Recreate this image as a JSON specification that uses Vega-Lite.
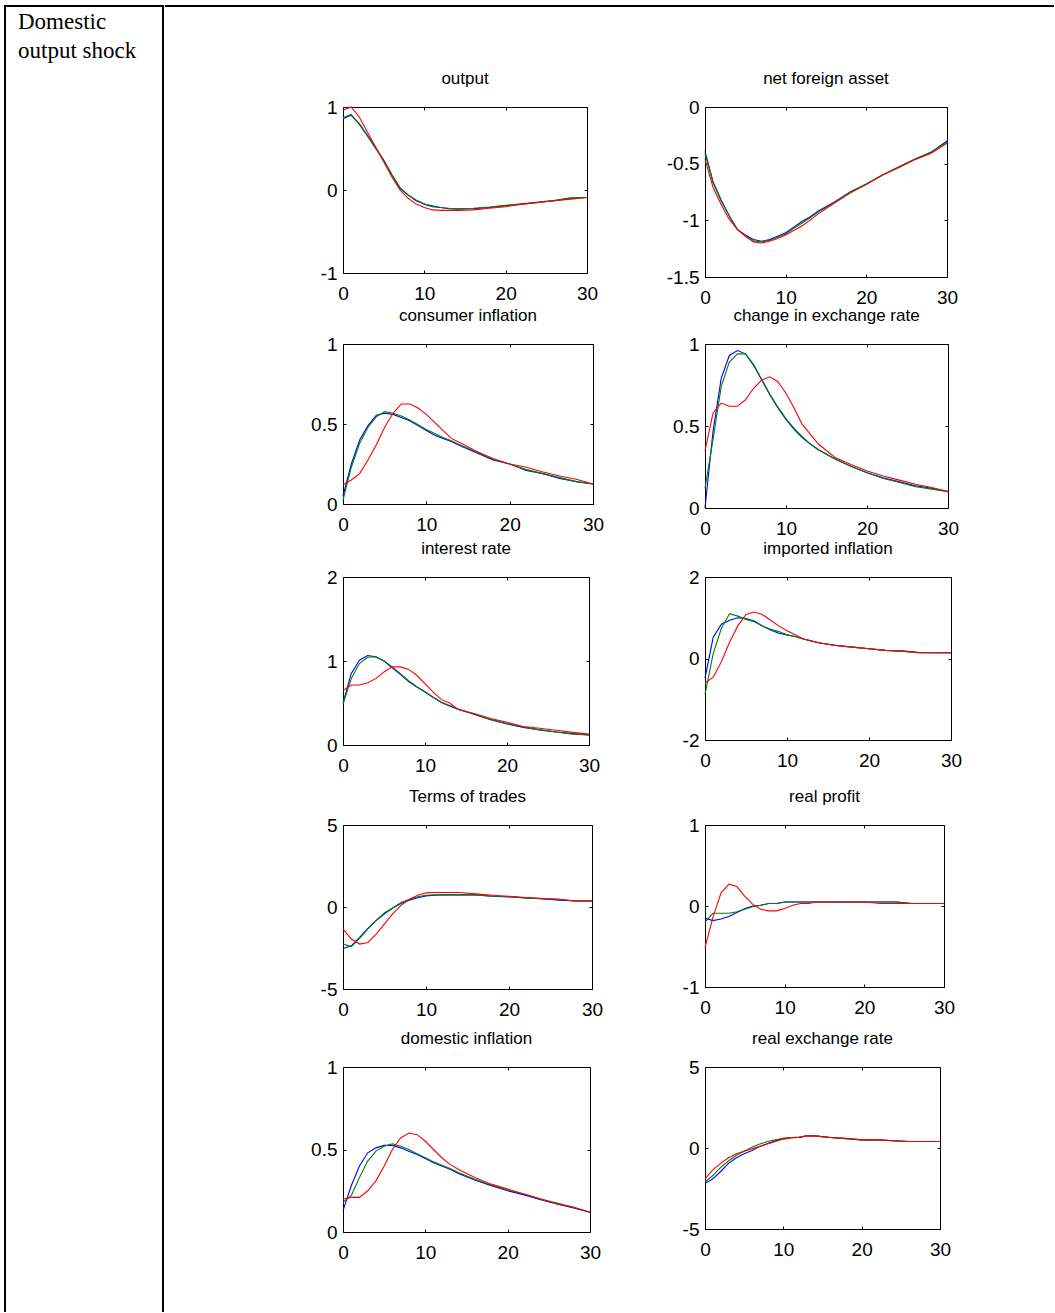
{
  "$schema": "https://vega.github.io/schema/vega-lite/v6.json",
  "padding": {"left": 4, "top": 5, "right": 0, "bottom": 0},
  "background": "white",
  "config": {
    "view": {"stroke": null},
    "font": "Liberation Sans, Arial, sans-serif",
    "axis": {"domain": false, "grid": false, "tickColor": "black", "tickSize": -3, "tickWidth": 1, "labelColor": "black", "labelFont": "Liberation Sans, Arial, sans-serif", "labelFontSize": 19, "labelFlush": false, "labelOverlap": false, "labelBound": false},
    "title": {"font": "Liberation Sans, Arial, sans-serif", "fontSize": 17, "fontWeight": "normal", "color": "black", "anchor": "middle", "frame": "group", "offset": 10, "baseline": "alphabetic"},
    "line": {"strokeWidth": 1.1}
  },
  "datasets": {
    "output": [
      {"s":"b","t":0,"v":0.86},{"s":"b","t":1,"v":0.90},{"s":"b","t":2,"v":0.80},{"s":"b","t":3,"v":0.66},{"s":"b","t":4,"v":0.51},{"s":"b","t":5,"v":0.36},{"s":"b","t":6,"v":0.18},{"s":"b","t":7,"v":0.02},{"s":"b","t":8,"v":-0.06},{"s":"b","t":9,"v":-0.13},{"s":"b","t":10,"v":-0.17},{"s":"b","t":11,"v":-0.20},{"s":"b","t":12,"v":-0.21},{"s":"b","t":13,"v":-0.225},{"s":"b","t":14,"v":-0.23},{"s":"b","t":16,"v":-0.225},{"s":"b","t":18,"v":-0.21},{"s":"b","t":20,"v":-0.19},{"s":"b","t":22,"v":-0.17},{"s":"b","t":24,"v":-0.15},{"s":"b","t":26,"v":-0.13},{"s":"b","t":28,"v":-0.10},{"s":"b","t":30,"v":-0.09},
      {"s":"g","t":0,"v":0.87},{"s":"g","t":1,"v":0.91},{"s":"g","t":2,"v":0.79},{"s":"g","t":3,"v":0.65},{"s":"g","t":4,"v":0.50},{"s":"g","t":5,"v":0.36},{"s":"g","t":6,"v":0.19},{"s":"g","t":7,"v":0.03},{"s":"g","t":8,"v":-0.06},{"s":"g","t":9,"v":-0.12},{"s":"g","t":10,"v":-0.17},{"s":"g","t":11,"v":-0.19},{"s":"g","t":12,"v":-0.21},{"s":"g","t":13,"v":-0.22},{"s":"g","t":14,"v":-0.225},{"s":"g","t":16,"v":-0.22},{"s":"g","t":18,"v":-0.205},{"s":"g","t":20,"v":-0.185},{"s":"g","t":22,"v":-0.165},{"s":"g","t":24,"v":-0.145},{"s":"g","t":26,"v":-0.125},{"s":"g","t":28,"v":-0.095},{"s":"g","t":30,"v":-0.09},
      {"s":"r","t":0,"v":0.96},{"s":"r","t":1,"v":1.0},{"s":"r","t":2,"v":0.88},{"s":"r","t":3,"v":0.70},{"s":"r","t":4,"v":0.52},{"s":"r","t":5,"v":0.34},{"s":"r","t":6,"v":0.16},{"s":"r","t":7,"v":0.0},{"s":"r","t":8,"v":-0.10},{"s":"r","t":9,"v":-0.17},{"s":"r","t":10,"v":-0.21},{"s":"r","t":11,"v":-0.24},{"s":"r","t":12,"v":-0.245},{"s":"r","t":13,"v":-0.245},{"s":"r","t":14,"v":-0.245},{"s":"r","t":16,"v":-0.24},{"s":"r","t":18,"v":-0.22},{"s":"r","t":20,"v":-0.20},{"s":"r","t":22,"v":-0.17},{"s":"r","t":24,"v":-0.15},{"s":"r","t":26,"v":-0.13},{"s":"r","t":28,"v":-0.11},{"s":"r","t":30,"v":-0.09}
    ],
    "nfa": [
      {"s":"b","t":0,"v":-0.39},{"s":"b","t":1,"v":-0.66},{"s":"b","t":2,"v":-0.82},{"s":"b","t":3,"v":-0.96},{"s":"b","t":4,"v":-1.08},{"s":"b","t":5,"v":-1.13},{"s":"b","t":6,"v":-1.17},{"s":"b","t":7,"v":-1.185},{"s":"b","t":8,"v":-1.17},{"s":"b","t":9,"v":-1.14},{"s":"b","t":10,"v":-1.11},{"s":"b","t":11,"v":-1.06},{"s":"b","t":12,"v":-1.01},{"s":"b","t":13,"v":-0.97},{"s":"b","t":14,"v":-0.92},{"s":"b","t":16,"v":-0.84},{"s":"b","t":18,"v":-0.75},{"s":"b","t":20,"v":-0.68},{"s":"b","t":22,"v":-0.60},{"s":"b","t":24,"v":-0.53},{"s":"b","t":26,"v":-0.46},{"s":"b","t":28,"v":-0.40},{"s":"b","t":30,"v":-0.30},
      {"s":"g","t":0,"v":-0.41},{"s":"g","t":1,"v":-0.67},{"s":"g","t":2,"v":-0.83},{"s":"g","t":3,"v":-0.96},{"s":"g","t":4,"v":-1.08},{"s":"g","t":5,"v":-1.135},{"s":"g","t":6,"v":-1.18},{"s":"g","t":7,"v":-1.19},{"s":"g","t":8,"v":-1.175},{"s":"g","t":9,"v":-1.15},{"s":"g","t":10,"v":-1.12},{"s":"g","t":11,"v":-1.07},{"s":"g","t":12,"v":-1.025},{"s":"g","t":13,"v":-0.98},{"s":"g","t":14,"v":-0.93},{"s":"g","t":16,"v":-0.845},{"s":"g","t":18,"v":-0.75},{"s":"g","t":20,"v":-0.68},{"s":"g","t":22,"v":-0.60},{"s":"g","t":24,"v":-0.53},{"s":"g","t":26,"v":-0.46},{"s":"g","t":28,"v":-0.40},{"s":"g","t":30,"v":-0.31},
      {"s":"r","t":0,"v":-0.46},{"s":"r","t":1,"v":-0.71},{"s":"r","t":2,"v":-0.86},{"s":"r","t":3,"v":-0.99},{"s":"r","t":4,"v":-1.08},{"s":"r","t":5,"v":-1.14},{"s":"r","t":6,"v":-1.19},{"s":"r","t":7,"v":-1.20},{"s":"r","t":8,"v":-1.185},{"s":"r","t":9,"v":-1.16},{"s":"r","t":10,"v":-1.13},{"s":"r","t":11,"v":-1.09},{"s":"r","t":12,"v":-1.05},{"s":"r","t":13,"v":-1.0},{"s":"r","t":14,"v":-0.945},{"s":"r","t":16,"v":-0.85},{"s":"r","t":18,"v":-0.76},{"s":"r","t":20,"v":-0.685},{"s":"r","t":22,"v":-0.60},{"s":"r","t":24,"v":-0.535},{"s":"r","t":26,"v":-0.465},{"s":"r","t":28,"v":-0.41},{"s":"r","t":30,"v":-0.32}
    ],
    "ci": [
      {"s":"b","t":0,"v":0.05},{"s":"b","t":1,"v":0.25},{"s":"b","t":2,"v":0.40},{"s":"b","t":3,"v":0.49},{"s":"b","t":4,"v":0.555},{"s":"b","t":5,"v":0.567},{"s":"b","t":6,"v":0.56},{"s":"b","t":7,"v":0.54},{"s":"b","t":8,"v":0.52},{"s":"b","t":9,"v":0.49},{"s":"b","t":10,"v":0.46},{"s":"b","t":11,"v":0.43},{"s":"b","t":12,"v":0.41},{"s":"b","t":13,"v":0.39},{"s":"b","t":14,"v":0.365},{"s":"b","t":16,"v":0.32},{"s":"b","t":18,"v":0.275},{"s":"b","t":20,"v":0.25},{"s":"b","t":22,"v":0.21},{"s":"b","t":24,"v":0.19},{"s":"b","t":26,"v":0.16},{"s":"b","t":28,"v":0.14},{"s":"b","t":30,"v":0.125},
      {"s":"g","t":0,"v":0.025},{"s":"g","t":1,"v":0.23},{"s":"g","t":2,"v":0.38},{"s":"g","t":3,"v":0.48},{"s":"g","t":4,"v":0.545},{"s":"g","t":5,"v":0.577},{"s":"g","t":6,"v":0.567},{"s":"g","t":7,"v":0.55},{"s":"g","t":8,"v":0.525},{"s":"g","t":9,"v":0.495},{"s":"g","t":10,"v":0.465},{"s":"g","t":11,"v":0.44},{"s":"g","t":12,"v":0.415},{"s":"g","t":13,"v":0.395},{"s":"g","t":14,"v":0.37},{"s":"g","t":16,"v":0.325},{"s":"g","t":18,"v":0.28},{"s":"g","t":20,"v":0.25},{"s":"g","t":22,"v":0.215},{"s":"g","t":24,"v":0.19},{"s":"g","t":26,"v":0.165},{"s":"g","t":28,"v":0.14},{"s":"g","t":30,"v":0.125},
      {"s":"r","t":0,"v":0.12},{"s":"r","t":1,"v":0.15},{"s":"r","t":2,"v":0.19},{"s":"r","t":3,"v":0.275},{"s":"r","t":4,"v":0.37},{"s":"r","t":5,"v":0.48},{"s":"r","t":6,"v":0.567},{"s":"r","t":7,"v":0.625},{"s":"r","t":8,"v":0.625},{"s":"r","t":9,"v":0.60},{"s":"r","t":10,"v":0.56},{"s":"r","t":11,"v":0.51},{"s":"r","t":12,"v":0.46},{"s":"r","t":13,"v":0.41},{"s":"r","t":14,"v":0.385},{"s":"r","t":16,"v":0.33},{"s":"r","t":18,"v":0.285},{"s":"r","t":20,"v":0.25},{"s":"r","t":22,"v":0.23},{"s":"r","t":24,"v":0.20},{"s":"r","t":26,"v":0.175},{"s":"r","t":28,"v":0.155},{"s":"r","t":30,"v":0.125}
    ],
    "cer": [
      {"s":"b","t":0,"v":0.0},{"s":"b","t":1,"v":0.47},{"s":"b","t":2,"v":0.79},{"s":"b","t":3,"v":0.93},{"s":"b","t":4,"v":0.96},{"s":"b","t":5,"v":0.94},{"s":"b","t":6,"v":0.87},{"s":"b","t":7,"v":0.78},{"s":"b","t":8,"v":0.69},{"s":"b","t":9,"v":0.61},{"s":"b","t":10,"v":0.54},{"s":"b","t":11,"v":0.48},{"s":"b","t":12,"v":0.43},{"s":"b","t":13,"v":0.39},{"s":"b","t":14,"v":0.355},{"s":"b","t":16,"v":0.30},{"s":"b","t":18,"v":0.255},{"s":"b","t":20,"v":0.215},{"s":"b","t":22,"v":0.185},{"s":"b","t":24,"v":0.16},{"s":"b","t":26,"v":0.135},{"s":"b","t":28,"v":0.12},{"s":"b","t":30,"v":0.10},
      {"s":"g","t":0,"v":0.12},{"s":"g","t":1,"v":0.42},{"s":"g","t":2,"v":0.74},{"s":"g","t":3,"v":0.89},{"s":"g","t":4,"v":0.94},{"s":"g","t":5,"v":0.94},{"s":"g","t":6,"v":0.875},{"s":"g","t":7,"v":0.785},{"s":"g","t":8,"v":0.695},{"s":"g","t":9,"v":0.615},{"s":"g","t":10,"v":0.545},{"s":"g","t":11,"v":0.485},{"s":"g","t":12,"v":0.435},{"s":"g","t":13,"v":0.39},{"s":"g","t":14,"v":0.355},{"s":"g","t":16,"v":0.30},{"s":"g","t":18,"v":0.255},{"s":"g","t":20,"v":0.215},{"s":"g","t":22,"v":0.18},{"s":"g","t":24,"v":0.155},{"s":"g","t":26,"v":0.13},{"s":"g","t":28,"v":0.115},{"s":"g","t":30,"v":0.10},
      {"s":"r","t":0,"v":0.35},{"s":"r","t":1,"v":0.58},{"s":"r","t":2,"v":0.64},{"s":"r","t":3,"v":0.62},{"s":"r","t":4,"v":0.62},{"s":"r","t":5,"v":0.66},{"s":"r","t":6,"v":0.73},{"s":"r","t":7,"v":0.78},{"s":"r","t":8,"v":0.80},{"s":"r","t":9,"v":0.77},{"s":"r","t":10,"v":0.70},{"s":"r","t":11,"v":0.61},{"s":"r","t":12,"v":0.51},{"s":"r","t":13,"v":0.45},{"s":"r","t":14,"v":0.39},{"s":"r","t":16,"v":0.31},{"s":"r","t":18,"v":0.265},{"s":"r","t":20,"v":0.225},{"s":"r","t":22,"v":0.195},{"s":"r","t":24,"v":0.17},{"s":"r","t":26,"v":0.145},{"s":"r","t":28,"v":0.125},{"s":"r","t":30,"v":0.10}
    ],
    "ir": [
      {"s":"b","t":0,"v":0.50},{"s":"b","t":1,"v":0.85},{"s":"b","t":2,"v":1.01},{"s":"b","t":3,"v":1.065},{"s":"b","t":4,"v":1.05},{"s":"b","t":5,"v":1.0},{"s":"b","t":6,"v":0.92},{"s":"b","t":7,"v":0.84},{"s":"b","t":8,"v":0.755},{"s":"b","t":9,"v":0.69},{"s":"b","t":10,"v":0.63},{"s":"b","t":11,"v":0.565},{"s":"b","t":12,"v":0.505},{"s":"b","t":13,"v":0.465},{"s":"b","t":14,"v":0.425},{"s":"b","t":16,"v":0.365},{"s":"b","t":18,"v":0.30},{"s":"b","t":20,"v":0.25},{"s":"b","t":22,"v":0.21},{"s":"b","t":24,"v":0.18},{"s":"b","t":26,"v":0.155},{"s":"b","t":28,"v":0.135},{"s":"b","t":30,"v":0.12},
      {"s":"g","t":0,"v":0.485},{"s":"g","t":1,"v":0.79},{"s":"g","t":2,"v":0.97},{"s":"g","t":3,"v":1.045},{"s":"g","t":4,"v":1.05},{"s":"g","t":5,"v":1.0},{"s":"g","t":6,"v":0.93},{"s":"g","t":7,"v":0.85},{"s":"g","t":8,"v":0.765},{"s":"g","t":9,"v":0.695},{"s":"g","t":10,"v":0.635},{"s":"g","t":11,"v":0.57},{"s":"g","t":12,"v":0.51},{"s":"g","t":13,"v":0.47},{"s":"g","t":14,"v":0.43},{"s":"g","t":16,"v":0.365},{"s":"g","t":18,"v":0.305},{"s":"g","t":20,"v":0.255},{"s":"g","t":22,"v":0.215},{"s":"g","t":24,"v":0.18},{"s":"g","t":26,"v":0.155},{"s":"g","t":28,"v":0.13},{"s":"g","t":30,"v":0.12},
      {"s":"r","t":0,"v":0.65},{"s":"r","t":1,"v":0.715},{"s":"r","t":2,"v":0.715},{"s":"r","t":3,"v":0.74},{"s":"r","t":4,"v":0.79},{"s":"r","t":5,"v":0.87},{"s":"r","t":6,"v":0.93},{"s":"r","t":7,"v":0.93},{"s":"r","t":8,"v":0.90},{"s":"r","t":9,"v":0.83},{"s":"r","t":10,"v":0.73},{"s":"r","t":11,"v":0.63},{"s":"r","t":12,"v":0.54},{"s":"r","t":13,"v":0.50},{"s":"r","t":14,"v":0.425},{"s":"r","t":16,"v":0.375},{"s":"r","t":18,"v":0.315},{"s":"r","t":20,"v":0.27},{"s":"r","t":22,"v":0.22},{"s":"r","t":24,"v":0.20},{"s":"r","t":26,"v":0.175},{"s":"r","t":28,"v":0.15},{"s":"r","t":30,"v":0.13}
    ],
    "ii": [
      {"s":"b","t":0,"v":-0.48},{"s":"b","t":1,"v":0.52},{"s":"b","t":2,"v":0.84},{"s":"b","t":3,"v":0.94},{"s":"b","t":4,"v":1.0},{"s":"b","t":5,"v":0.98},{"s":"b","t":6,"v":0.92},{"s":"b","t":7,"v":0.80},{"s":"b","t":8,"v":0.70},{"s":"b","t":9,"v":0.62},{"s":"b","t":10,"v":0.58},{"s":"b","t":11,"v":0.54},{"s":"b","t":12,"v":0.48},{"s":"b","t":13,"v":0.43},{"s":"b","t":14,"v":0.38},{"s":"b","t":16,"v":0.32},{"s":"b","t":18,"v":0.28},{"s":"b","t":20,"v":0.24},{"s":"b","t":22,"v":0.20},{"s":"b","t":24,"v":0.18},{"s":"b","t":26,"v":0.145},{"s":"b","t":28,"v":0.14},{"s":"b","t":30,"v":0.14},
      {"s":"g","t":0,"v":-0.88},{"s":"g","t":1,"v":0.12},{"s":"g","t":2,"v":0.74},{"s":"g","t":3,"v":1.10},{"s":"g","t":4,"v":1.04},{"s":"g","t":5,"v":0.96},{"s":"g","t":6,"v":0.90},{"s":"g","t":7,"v":0.80},{"s":"g","t":8,"v":0.72},{"s":"g","t":9,"v":0.66},{"s":"g","t":10,"v":0.58},{"s":"g","t":11,"v":0.54},{"s":"g","t":12,"v":0.48},{"s":"g","t":13,"v":0.43},{"s":"g","t":14,"v":0.38},{"s":"g","t":16,"v":0.32},{"s":"g","t":18,"v":0.28},{"s":"g","t":20,"v":0.24},{"s":"g","t":22,"v":0.20},{"s":"g","t":24,"v":0.18},{"s":"g","t":26,"v":0.14},{"s":"g","t":28,"v":0.14},{"s":"g","t":30,"v":0.14},
      {"s":"r","t":0,"v":-0.60},{"s":"r","t":1,"v":-0.46},{"s":"r","t":2,"v":-0.08},{"s":"r","t":3,"v":0.40},{"s":"r","t":4,"v":0.80},{"s":"r","t":5,"v":1.08},{"s":"r","t":6,"v":1.14},{"s":"r","t":7,"v":1.08},{"s":"r","t":8,"v":0.94},{"s":"r","t":9,"v":0.80},{"s":"r","t":10,"v":0.68},{"s":"r","t":11,"v":0.58},{"s":"r","t":12,"v":0.48},{"s":"r","t":13,"v":0.43},{"s":"r","t":14,"v":0.38},{"s":"r","t":16,"v":0.32},{"s":"r","t":18,"v":0.28},{"s":"r","t":20,"v":0.24},{"s":"r","t":22,"v":0.20},{"s":"r","t":24,"v":0.19},{"s":"r","t":26,"v":0.15},{"s":"r","t":28,"v":0.14},{"s":"r","t":30,"v":0.14}
    ],
    "tot": [
      {"s":"b","t":0,"v":-2.53},{"s":"b","t":1,"v":-2.37},{"s":"b","t":2,"v":-1.85},{"s":"b","t":3,"v":-1.30},{"s":"b","t":4,"v":-0.82},{"s":"b","t":5,"v":-0.41},{"s":"b","t":6,"v":-0.06},{"s":"b","t":7,"v":0.21},{"s":"b","t":8,"v":0.41},{"s":"b","t":9,"v":0.56},{"s":"b","t":10,"v":0.68},{"s":"b","t":11,"v":0.72},{"s":"b","t":12,"v":0.74},{"s":"b","t":13,"v":0.74},{"s":"b","t":14,"v":0.74},{"s":"b","t":16,"v":0.74},{"s":"b","t":18,"v":0.66},{"s":"b","t":20,"v":0.62},{"s":"b","t":22,"v":0.56},{"s":"b","t":24,"v":0.51},{"s":"b","t":26,"v":0.41},{"s":"b","t":28,"v":0.37},{"s":"b","t":30,"v":0.37},
      {"s":"g","t":0,"v":-2.26},{"s":"g","t":1,"v":-2.41},{"s":"g","t":2,"v":-1.91},{"s":"g","t":3,"v":-1.34},{"s":"g","t":4,"v":-0.82},{"s":"g","t":5,"v":-0.35},{"s":"g","t":6,"v":-0.06},{"s":"g","t":7,"v":0.27},{"s":"g","t":8,"v":0.47},{"s":"g","t":9,"v":0.62},{"s":"g","t":10,"v":0.72},{"s":"g","t":11,"v":0.74},{"s":"g","t":12,"v":0.74},{"s":"g","t":13,"v":0.74},{"s":"g","t":14,"v":0.74},{"s":"g","t":16,"v":0.74},{"s":"g","t":18,"v":0.66},{"s":"g","t":20,"v":0.64},{"s":"g","t":22,"v":0.53},{"s":"g","t":24,"v":0.51},{"s":"g","t":26,"v":0.47},{"s":"g","t":28,"v":0.37},{"s":"g","t":30,"v":0.37},
      {"s":"r","t":0,"v":-1.34},{"s":"r","t":1,"v":-1.95},{"s":"r","t":2,"v":-2.26},{"s":"r","t":3,"v":-2.16},{"s":"r","t":4,"v":-1.65},{"s":"r","t":5,"v":-1.03},{"s":"r","t":6,"v":-0.41},{"s":"r","t":7,"v":0.10},{"s":"r","t":8,"v":0.47},{"s":"r","t":9,"v":0.72},{"s":"r","t":10,"v":0.86},{"s":"r","t":11,"v":0.88},{"s":"r","t":12,"v":0.88},{"s":"r","t":13,"v":0.88},{"s":"r","t":14,"v":0.88},{"s":"r","t":16,"v":0.80},{"s":"r","t":18,"v":0.72},{"s":"r","t":20,"v":0.66},{"s":"r","t":22,"v":0.58},{"s":"r","t":24,"v":0.51},{"s":"r","t":26,"v":0.47},{"s":"r","t":28,"v":0.37},{"s":"r","t":30,"v":0.37}
    ],
    "rp": [
      {"s":"b","t":0,"v":-0.15},{"s":"b","t":1,"v":-0.18},{"s":"b","t":2,"v":-0.16},{"s":"b","t":3,"v":-0.13},{"s":"b","t":4,"v":-0.08},{"s":"b","t":5,"v":-0.03},{"s":"b","t":6,"v":0.0},{"s":"b","t":7,"v":0.01},{"s":"b","t":8,"v":0.03},{"s":"b","t":9,"v":0.03},{"s":"b","t":10,"v":0.05},{"s":"b","t":11,"v":0.05},{"s":"b","t":12,"v":0.05},{"s":"b","t":13,"v":0.05},{"s":"b","t":14,"v":0.05},{"s":"b","t":16,"v":0.05},{"s":"b","t":18,"v":0.05},{"s":"b","t":20,"v":0.05},{"s":"b","t":22,"v":0.05},{"s":"b","t":24,"v":0.05},{"s":"b","t":26,"v":0.03},{"s":"b","t":28,"v":0.03},{"s":"b","t":30,"v":0.03},
      {"s":"g","t":0,"v":-0.20},{"s":"g","t":1,"v":-0.09},{"s":"g","t":2,"v":-0.09},{"s":"g","t":3,"v":-0.09},{"s":"g","t":4,"v":-0.07},{"s":"g","t":5,"v":-0.04},{"s":"g","t":6,"v":-0.01},{"s":"g","t":7,"v":0.01},{"s":"g","t":8,"v":0.03},{"s":"g","t":9,"v":0.03},{"s":"g","t":10,"v":0.05},{"s":"g","t":11,"v":0.05},{"s":"g","t":12,"v":0.05},{"s":"g","t":13,"v":0.05},{"s":"g","t":14,"v":0.05},{"s":"g","t":16,"v":0.05},{"s":"g","t":18,"v":0.05},{"s":"g","t":20,"v":0.05},{"s":"g","t":22,"v":0.05},{"s":"g","t":24,"v":0.05},{"s":"g","t":26,"v":0.03},{"s":"g","t":28,"v":0.03},{"s":"g","t":30,"v":0.03},
      {"s":"r","t":0,"v":-0.51},{"s":"r","t":1,"v":-0.14},{"s":"r","t":2,"v":0.16},{"s":"r","t":3,"v":0.27},{"s":"r","t":4,"v":0.24},{"s":"r","t":5,"v":0.12},{"s":"r","t":6,"v":0.02},{"s":"r","t":7,"v":-0.04},{"s":"r","t":8,"v":-0.06},{"s":"r","t":9,"v":-0.06},{"s":"r","t":10,"v":-0.03},{"s":"r","t":11,"v":0.01},{"s":"r","t":12,"v":0.03},{"s":"r","t":13,"v":0.03},{"s":"r","t":14,"v":0.05},{"s":"r","t":16,"v":0.05},{"s":"r","t":18,"v":0.05},{"s":"r","t":20,"v":0.05},{"s":"r","t":22,"v":0.03},{"s":"r","t":24,"v":0.03},{"s":"r","t":26,"v":0.03},{"s":"r","t":28,"v":0.03},{"s":"r","t":30,"v":0.03}
    ],
    "di": [
      {"s":"b","t":0,"v":0.13},{"s":"b","t":1,"v":0.28},{"s":"b","t":2,"v":0.40},{"s":"b","t":3,"v":0.48},{"s":"b","t":4,"v":0.51},{"s":"b","t":5,"v":0.525},{"s":"b","t":6,"v":0.525},{"s":"b","t":7,"v":0.51},{"s":"b","t":8,"v":0.49},{"s":"b","t":9,"v":0.47},{"s":"b","t":10,"v":0.445},{"s":"b","t":11,"v":0.42},{"s":"b","t":12,"v":0.40},{"s":"b","t":13,"v":0.38},{"s":"b","t":14,"v":0.355},{"s":"b","t":16,"v":0.315},{"s":"b","t":18,"v":0.28},{"s":"b","t":20,"v":0.25},{"s":"b","t":22,"v":0.225},{"s":"b","t":24,"v":0.195},{"s":"b","t":26,"v":0.17},{"s":"b","t":28,"v":0.145},{"s":"b","t":30,"v":0.12},
      {"s":"g","t":0,"v":0.18},{"s":"g","t":1,"v":0.22},{"s":"g","t":2,"v":0.33},{"s":"g","t":3,"v":0.43},{"s":"g","t":4,"v":0.49},{"s":"g","t":5,"v":0.52},{"s":"g","t":6,"v":0.535},{"s":"g","t":7,"v":0.52},{"s":"g","t":8,"v":0.50},{"s":"g","t":9,"v":0.475},{"s":"g","t":10,"v":0.45},{"s":"g","t":11,"v":0.425},{"s":"g","t":12,"v":0.405},{"s":"g","t":13,"v":0.385},{"s":"g","t":14,"v":0.36},{"s":"g","t":16,"v":0.32},{"s":"g","t":18,"v":0.285},{"s":"g","t":20,"v":0.255},{"s":"g","t":22,"v":0.23},{"s":"g","t":24,"v":0.20},{"s":"g","t":26,"v":0.175},{"s":"g","t":28,"v":0.15},{"s":"g","t":30,"v":0.12},
      {"s":"r","t":0,"v":0.20},{"s":"r","t":1,"v":0.21},{"s":"r","t":2,"v":0.21},{"s":"r","t":3,"v":0.25},{"s":"r","t":4,"v":0.31},{"s":"r","t":5,"v":0.40},{"s":"r","t":6,"v":0.50},{"s":"r","t":7,"v":0.57},{"s":"r","t":8,"v":0.60},{"s":"r","t":9,"v":0.59},{"s":"r","t":10,"v":0.55},{"s":"r","t":11,"v":0.50},{"s":"r","t":12,"v":0.45},{"s":"r","t":13,"v":0.41},{"s":"r","t":14,"v":0.38},{"s":"r","t":16,"v":0.33},{"s":"r","t":18,"v":0.29},{"s":"r","t":20,"v":0.26},{"s":"r","t":22,"v":0.23},{"s":"r","t":24,"v":0.20},{"s":"r","t":26,"v":0.17},{"s":"r","t":28,"v":0.15},{"s":"r","t":30,"v":0.12}
    ],
    "rer": [
      {"s":"b","t":0,"v":-2.2},{"s":"b","t":1,"v":-1.9},{"s":"b","t":2,"v":-1.45},{"s":"b","t":3,"v":-0.95},{"s":"b","t":4,"v":-0.6},{"s":"b","t":5,"v":-0.35},{"s":"b","t":6,"v":-0.15},{"s":"b","t":7,"v":0.1},{"s":"b","t":8,"v":0.28},{"s":"b","t":9,"v":0.45},{"s":"b","t":10,"v":0.58},{"s":"b","t":11,"v":0.65},{"s":"b","t":12,"v":0.65},{"s":"b","t":13,"v":0.75},{"s":"b","t":14,"v":0.75},{"s":"b","t":16,"v":0.65},{"s":"b","t":18,"v":0.58},{"s":"b","t":20,"v":0.5},{"s":"b","t":22,"v":0.5},{"s":"b","t":24,"v":0.45},{"s":"b","t":26,"v":0.4},{"s":"b","t":28,"v":0.4},{"s":"b","t":30,"v":0.4},
      {"s":"g","t":0,"v":-2.1},{"s":"g","t":1,"v":-1.7},{"s":"g","t":2,"v":-1.2},{"s":"g","t":3,"v":-0.8},{"s":"g","t":4,"v":-0.45},{"s":"g","t":5,"v":-0.2},{"s":"g","t":6,"v":0.05},{"s":"g","t":7,"v":0.25},{"s":"g","t":8,"v":0.4},{"s":"g","t":9,"v":0.5},{"s":"g","t":10,"v":0.6},{"s":"g","t":11,"v":0.65},{"s":"g","t":12,"v":0.68},{"s":"g","t":13,"v":0.75},{"s":"g","t":14,"v":0.75},{"s":"g","t":16,"v":0.65},{"s":"g","t":18,"v":0.58},{"s":"g","t":20,"v":0.5},{"s":"g","t":22,"v":0.5},{"s":"g","t":24,"v":0.45},{"s":"g","t":26,"v":0.4},{"s":"g","t":28,"v":0.4},{"s":"g","t":30,"v":0.4},
      {"s":"r","t":0,"v":-1.9},{"s":"r","t":1,"v":-1.35},{"s":"r","t":2,"v":-0.95},{"s":"r","t":3,"v":-0.6},{"s":"r","t":4,"v":-0.35},{"s":"r","t":5,"v":-0.2},{"s":"r","t":6,"v":-0.05},{"s":"r","t":7,"v":0.1},{"s":"r","t":8,"v":0.25},{"s":"r","t":9,"v":0.4},{"s":"r","t":10,"v":0.55},{"s":"r","t":11,"v":0.62},{"s":"r","t":12,"v":0.65},{"s":"r","t":13,"v":0.75},{"s":"r","t":14,"v":0.75},{"s":"r","t":16,"v":0.65},{"s":"r","t":18,"v":0.6},{"s":"r","t":20,"v":0.5},{"s":"r","t":22,"v":0.5},{"s":"r","t":24,"v":0.45},{"s":"r","t":26,"v":0.4},{"s":"r","t":28,"v":0.4},{"s":"r","t":30,"v":0.4}
    ]
  },
  "spacing": 0,
  "hconcat": [
    {
      "width": 158, "height": 1306,
      "data": {"values": []},
      "mark": "point",
      "view": {"stroke": "black", "strokeWidth": 2, "strokeDash": [1464, 158, 1306]},
      "title": {"text": ["Domestic", "output shock"], "anchor": "start", "frame": "group", "baseline": "top", "offset": -57, "dx": 13, "font": "Liberation Serif", "fontSize": 23, "fontWeight": "normal", "lineHeight": 29, "color": "black"}
    },
    {
      "columns": 4,
      "align": "none",
      "bounds": "flush",
      "spacing": 0,
      "concat": [
        {"width": 178, "height": 101, "data": {"values": []}, "mark": "point", "view": {"stroke": "black", "strokeWidth": 2, "strokeDash": [178, 380]}},
        {"width": 250, "height": 101, "data": {"values": []}, "mark": "point", "view": {"stroke": "black", "strokeWidth": 2, "strokeDash": [250, 452]}},
        {"width": 112, "height": 101, "data": {"values": []}, "mark": "point", "view": {"stroke": "black", "strokeWidth": 2, "strokeDash": [112, 314]}},
        {"width": 349, "height": 101, "data": {"values": []}, "mark": "point", "view": {"stroke": "black", "strokeWidth": 2, "strokeDash": [349, 551]}},

        {"width": 178, "height": 166, "data": {"values": []}, "mark": "point"},
        {
          "width": 244, "height": 166, "title": "output", "data": {"name": "output"},
          "view": {"stroke": "black", "strokeWidth": 1},
          "layer": [
            {"mark": {"type": "line"}, "encoding": {
              "x": {"field": "t", "type": "quantitative", "scale": {"domain": [0, 30], "nice": false}, "axis": {"orient": "bottom", "values": [0, 10, 20, 30], "title": null, "labelPadding": 14}},
              "y": {"field": "v", "type": "quantitative", "scale": {"domain": [-1, 1], "nice": false, "zero": false}, "axis": {"orient": "left", "values": [-1, 0, 1], "title": null, "labelPadding": 9, "format": "~g", "labelExpr": "replace(datum.label, '\u2212', '-')"}},
              "color": {"field": "s", "type": "nominal", "scale": {"domain": ["b", "g", "r"], "range": ["#0000ff", "#008000", "#ff0000"]}, "legend": null}}},
            {"mark": {"type": "point", "opacity": 0}, "encoding": {
              "x": {"field": "t", "type": "quantitative", "axis": {"orient": "top", "values": [0, 10, 20, 30], "labels": false, "title": null}},
              "y": {"field": "v", "type": "quantitative", "axis": {"orient": "right", "values": [-1, 0, 1], "labels": false, "title": null}}}}
          ],
          "resolve": {"axis": {"x": "independent", "y": "independent"}}
        },
        {"width": 112, "height": 166, "data": {"values": []}, "mark": "point"},
        {
          "width": 242, "height": 170, "title": "net foreign asset", "data": {"name": "nfa"},
          "view": {"stroke": "black", "strokeWidth": 1},
          "layer": [
            {"mark": {"type": "line"}, "encoding": {
              "x": {"field": "t", "type": "quantitative", "scale": {"domain": [0, 30], "nice": false}, "axis": {"orient": "bottom", "values": [0, 10, 20, 30], "title": null, "labelPadding": 14}},
              "y": {"field": "v", "type": "quantitative", "scale": {"domain": [-1.5, 0], "nice": false, "zero": false}, "axis": {"orient": "left", "values": [-1.5, -1, -0.5, 0], "title": null, "labelPadding": 9, "format": "~g", "labelExpr": "replace(datum.label, '\u2212', '-')"}},
              "color": {"field": "s", "type": "nominal", "scale": {"domain": ["b", "g", "r"], "range": ["#0000ff", "#008000", "#ff0000"]}, "legend": null}}},
            {"mark": {"type": "point", "opacity": 0}, "encoding": {
              "x": {"field": "t", "type": "quantitative", "axis": {"orient": "top", "values": [0, 10, 20, 30], "labels": false, "title": null}},
              "y": {"field": "v", "type": "quantitative", "axis": {"orient": "right", "values": [-1.5, -1, -0.5, 0], "labels": false, "title": null}}}}
          ],
          "resolve": {"axis": {"x": "independent", "y": "independent"}}
        },

        {"width": 178, "height": 67, "data": {"values": []}, "mark": "point"},
        {"width": 250, "height": 67, "data": {"values": []}, "mark": "point"},
        {"width": 112, "height": 67, "data": {"values": []}, "mark": "point"},
        {"width": 242, "height": 67, "data": {"values": []}, "mark": "point"},

        {"width": 178, "height": 160, "data": {"values": []}, "mark": "point"},
        {
          "width": 250, "height": 160, "title": "consumer inflation", "data": {"name": "ci"},
          "view": {"stroke": "black", "strokeWidth": 1},
          "layer": [
            {"mark": {"type": "line"}, "encoding": {
              "x": {"field": "t", "type": "quantitative", "scale": {"domain": [0, 30], "nice": false}, "axis": {"orient": "bottom", "values": [0, 10, 20, 30], "title": null, "labelPadding": 14}},
              "y": {"field": "v", "type": "quantitative", "scale": {"domain": [0, 1], "nice": false, "zero": false}, "axis": {"orient": "left", "values": [0, 0.5, 1], "title": null, "labelPadding": 9, "format": "~g", "labelExpr": "replace(datum.label, '\u2212', '-')"}},
              "color": {"field": "s", "type": "nominal", "scale": {"domain": ["b", "g", "r"], "range": ["#0000ff", "#008000", "#ff0000"]}, "legend": null}}},
            {"mark": {"type": "point", "opacity": 0}, "encoding": {
              "x": {"field": "t", "type": "quantitative", "axis": {"orient": "top", "values": [0, 10, 20, 30], "labels": false, "title": null}},
              "y": {"field": "v", "type": "quantitative", "axis": {"orient": "right", "values": [0, 0.5, 1], "labels": false, "title": null}}}}
          ],
          "resolve": {"axis": {"x": "independent", "y": "independent"}}
        },
        {"width": 112, "height": 160, "data": {"values": []}, "mark": "point"},
        {
          "width": 243, "height": 164, "title": "change in exchange rate", "data": {"name": "cer"},
          "view": {"stroke": "black", "strokeWidth": 1},
          "layer": [
            {"mark": {"type": "line"}, "encoding": {
              "x": {"field": "t", "type": "quantitative", "scale": {"domain": [0, 30], "nice": false}, "axis": {"orient": "bottom", "values": [0, 10, 20, 30], "title": null, "labelPadding": 14}},
              "y": {"field": "v", "type": "quantitative", "scale": {"domain": [0, 1], "nice": false, "zero": false}, "axis": {"orient": "left", "values": [0, 0.5, 1], "title": null, "labelPadding": 9, "format": "~g", "labelExpr": "replace(datum.label, '\u2212', '-')"}},
              "color": {"field": "s", "type": "nominal", "scale": {"domain": ["b", "g", "r"], "range": ["#0000ff", "#008000", "#ff0000"]}, "legend": null}}},
            {"mark": {"type": "point", "opacity": 0}, "encoding": {
              "x": {"field": "t", "type": "quantitative", "axis": {"orient": "top", "values": [0, 10, 20, 30], "labels": false, "title": null}},
              "y": {"field": "v", "type": "quantitative", "axis": {"orient": "right", "values": [0, 0.5, 1], "labels": false, "title": null}}}}
          ],
          "resolve": {"axis": {"x": "independent", "y": "independent"}}
        },

        {"width": 178, "height": 69, "data": {"values": []}, "mark": "point"},
        {"width": 250, "height": 69, "data": {"values": []}, "mark": "point"},
        {"width": 112, "height": 69, "data": {"values": []}, "mark": "point"},
        {"width": 243, "height": 69, "data": {"values": []}, "mark": "point"},

        {"width": 178, "height": 163, "data": {"values": []}, "mark": "point"},
        {
          "width": 246, "height": 168, "title": "interest rate", "data": {"name": "ir"},
          "view": {"stroke": "black", "strokeWidth": 1},
          "layer": [
            {"mark": {"type": "line"}, "encoding": {
              "x": {"field": "t", "type": "quantitative", "scale": {"domain": [0, 30], "nice": false}, "axis": {"orient": "bottom", "values": [0, 10, 20, 30], "title": null, "labelPadding": 14}},
              "y": {"field": "v", "type": "quantitative", "scale": {"domain": [0, 2], "nice": false, "zero": false}, "axis": {"orient": "left", "values": [0, 1, 2], "title": null, "labelPadding": 9, "format": "~g", "labelExpr": "replace(datum.label, '\u2212', '-')"}},
              "color": {"field": "s", "type": "nominal", "scale": {"domain": ["b", "g", "r"], "range": ["#0000ff", "#008000", "#ff0000"]}, "legend": null}}},
            {"mark": {"type": "point", "opacity": 0}, "encoding": {
              "x": {"field": "t", "type": "quantitative", "axis": {"orient": "top", "values": [0, 10, 20, 30], "labels": false, "title": null}},
              "y": {"field": "v", "type": "quantitative", "axis": {"orient": "right", "values": [0, 1, 2], "labels": false, "title": null}}}}
          ],
          "resolve": {"axis": {"x": "independent", "y": "independent"}}
        },
        {"width": 112, "height": 163, "data": {"values": []}, "mark": "point"},
        {
          "width": 246, "height": 163, "title": "imported inflation", "data": {"name": "ii"},
          "view": {"stroke": "black", "strokeWidth": 1},
          "layer": [
            {"mark": {"type": "line"}, "encoding": {
              "x": {"field": "t", "type": "quantitative", "scale": {"domain": [0, 30], "nice": false}, "axis": {"orient": "bottom", "values": [0, 10, 20, 30], "title": null, "labelPadding": 14}},
              "y": {"field": "v", "type": "quantitative", "scale": {"domain": [-2, 2], "nice": false, "zero": false}, "axis": {"orient": "left", "values": [-2, 0, 2], "title": null, "labelPadding": 9, "format": "~g", "labelExpr": "replace(datum.label, '\u2212', '-')"}},
              "color": {"field": "s", "type": "nominal", "scale": {"domain": ["b", "g", "r"], "range": ["#0000ff", "#008000", "#ff0000"]}, "legend": null}}},
            {"mark": {"type": "point", "opacity": 0}, "encoding": {
              "x": {"field": "t", "type": "quantitative", "axis": {"orient": "top", "values": [0, 10, 20, 30], "labels": false, "title": null}},
              "y": {"field": "v", "type": "quantitative", "axis": {"orient": "right", "values": [-2, 0, 2], "labels": false, "title": null}}}}
          ],
          "resolve": {"axis": {"x": "independent", "y": "independent"}}
        },

        {"width": 178, "height": 80, "data": {"values": []}, "mark": "point"},
        {"width": 246, "height": 80, "data": {"values": []}, "mark": "point"},
        {"width": 112, "height": 80, "data": {"values": []}, "mark": "point"},
        {"width": 246, "height": 80, "data": {"values": []}, "mark": "point"},

        {"width": 178, "height": 162, "data": {"values": []}, "mark": "point"},
        {
          "width": 249, "height": 164, "title": "Terms of trades", "data": {"name": "tot"},
          "view": {"stroke": "black", "strokeWidth": 1},
          "layer": [
            {"mark": {"type": "line"}, "encoding": {
              "x": {"field": "t", "type": "quantitative", "scale": {"domain": [0, 30], "nice": false}, "axis": {"orient": "bottom", "values": [0, 10, 20, 30], "title": null, "labelPadding": 14}},
              "y": {"field": "v", "type": "quantitative", "scale": {"domain": [-5, 5], "nice": false, "zero": false}, "axis": {"orient": "left", "values": [-5, 0, 5], "title": null, "labelPadding": 9, "format": "~g", "labelExpr": "replace(datum.label, '\u2212', '-')"}},
              "color": {"field": "s", "type": "nominal", "scale": {"domain": ["b", "g", "r"], "range": ["#0000ff", "#008000", "#ff0000"]}, "legend": null}}},
            {"mark": {"type": "point", "opacity": 0}, "encoding": {
              "x": {"field": "t", "type": "quantitative", "axis": {"orient": "top", "values": [0, 10, 20, 30], "labels": false, "title": null}},
              "y": {"field": "v", "type": "quantitative", "axis": {"orient": "right", "values": [-5, 0, 5], "labels": false, "title": null}}}}
          ],
          "resolve": {"axis": {"x": "independent", "y": "independent"}}
        },
        {"width": 112, "height": 162, "data": {"values": []}, "mark": "point"},
        {
          "width": 239, "height": 162, "title": "real profit", "data": {"name": "rp"},
          "view": {"stroke": "black", "strokeWidth": 1},
          "layer": [
            {"mark": {"type": "line"}, "encoding": {
              "x": {"field": "t", "type": "quantitative", "scale": {"domain": [0, 30], "nice": false}, "axis": {"orient": "bottom", "values": [0, 10, 20, 30], "title": null, "labelPadding": 14}},
              "y": {"field": "v", "type": "quantitative", "scale": {"domain": [-1, 1], "nice": false, "zero": false}, "axis": {"orient": "left", "values": [-1, 0, 1], "title": null, "labelPadding": 9, "format": "~g", "labelExpr": "replace(datum.label, '\u2212', '-')"}},
              "color": {"field": "s", "type": "nominal", "scale": {"domain": ["b", "g", "r"], "range": ["#0000ff", "#008000", "#ff0000"]}, "legend": null}}},
            {"mark": {"type": "point", "opacity": 0}, "encoding": {
              "x": {"field": "t", "type": "quantitative", "axis": {"orient": "top", "values": [0, 10, 20, 30], "labels": false, "title": null}},
              "y": {"field": "v", "type": "quantitative", "axis": {"orient": "right", "values": [-1, 0, 1], "labels": false, "title": null}}}}
          ],
          "resolve": {"axis": {"x": "independent", "y": "independent"}}
        },

        {"width": 178, "height": 78, "data": {"values": []}, "mark": "point"},
        {"width": 249, "height": 78, "data": {"values": []}, "mark": "point"},
        {"width": 112, "height": 78, "data": {"values": []}, "mark": "point"},
        {"width": 239, "height": 78, "data": {"values": []}, "mark": "point"},

        {"width": 178, "height": 162, "data": {"values": []}, "mark": "point"},
        {
          "width": 247, "height": 165, "title": "domestic inflation", "data": {"name": "di"},
          "view": {"stroke": "black", "strokeWidth": 1},
          "layer": [
            {"mark": {"type": "line"}, "encoding": {
              "x": {"field": "t", "type": "quantitative", "scale": {"domain": [0, 30], "nice": false}, "axis": {"orient": "bottom", "values": [0, 10, 20, 30], "title": null, "labelPadding": 14}},
              "y": {"field": "v", "type": "quantitative", "scale": {"domain": [0, 1], "nice": false, "zero": false}, "axis": {"orient": "left", "values": [0, 0.5, 1], "title": null, "labelPadding": 9, "format": "~g", "labelExpr": "replace(datum.label, '\u2212', '-')"}},
              "color": {"field": "s", "type": "nominal", "scale": {"domain": ["b", "g", "r"], "range": ["#0000ff", "#008000", "#ff0000"]}, "legend": null}}},
            {"mark": {"type": "point", "opacity": 0}, "encoding": {
              "x": {"field": "t", "type": "quantitative", "axis": {"orient": "top", "values": [0, 10, 20, 30], "labels": false, "title": null}},
              "y": {"field": "v", "type": "quantitative", "axis": {"orient": "right", "values": [0, 0.5, 1], "labels": false, "title": null}}}}
          ],
          "resolve": {"axis": {"x": "independent", "y": "independent"}}
        },
        {"width": 112, "height": 162, "data": {"values": []}, "mark": "point"},
        {
          "width": 235, "height": 162, "title": "real exchange rate", "data": {"name": "rer"},
          "view": {"stroke": "black", "strokeWidth": 1},
          "layer": [
            {"mark": {"type": "line"}, "encoding": {
              "x": {"field": "t", "type": "quantitative", "scale": {"domain": [0, 30], "nice": false}, "axis": {"orient": "bottom", "values": [0, 10, 20, 30], "title": null, "labelPadding": 14}},
              "y": {"field": "v", "type": "quantitative", "scale": {"domain": [-5, 5], "nice": false, "zero": false}, "axis": {"orient": "left", "values": [-5, 0, 5], "title": null, "labelPadding": 9, "format": "~g", "labelExpr": "replace(datum.label, '\u2212', '-')"}},
              "color": {"field": "s", "type": "nominal", "scale": {"domain": ["b", "g", "r"], "range": ["#0000ff", "#008000", "#ff0000"]}, "legend": null}}},
            {"mark": {"type": "point", "opacity": 0}, "encoding": {
              "x": {"field": "t", "type": "quantitative", "axis": {"orient": "top", "values": [0, 10, 20, 30], "labels": false, "title": null}},
              "y": {"field": "v", "type": "quantitative", "axis": {"orient": "right", "values": [-5, 0, 5], "labels": false, "title": null}}}}
          ],
          "resolve": {"axis": {"x": "independent", "y": "independent"}}
        }
      ]
    }
  ]
}
